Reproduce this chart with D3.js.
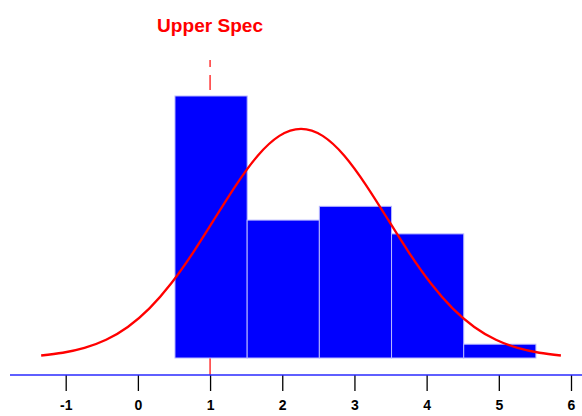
<!DOCTYPE html>
<html>
<head>
<meta charset="utf-8">
<script src="https://cdn.jsdelivr.net/npm/d3@7"></script>
<style>
  body { margin: 0; background: #fff; }
  svg { display: block; }
</style>
</head>
<body>
<div id="chart"></div>
<script>
// histogram bins (lower edge, upper edge) and counts
var binStart = [0.5, 1.5, 2.5, 3.5, 4.5];
var binEnd = [1.5, 2.5, 3.5, 4.5, 5.5];
var counts = [19, 10, 11, 9, 1];

// fitted normal curve (x value, height in counts)
var curveX = [-1.34, -1.04, -0.74, -0.44, -0.14, 0.16, 0.46, 0.76, 1.06, 1.36, 1.66, 1.96, 2.26,
              2.56, 2.86, 3.16, 3.46, 3.76, 4.06, 4.36, 4.66, 4.96, 5.26, 5.56, 5.86];
var curveY = [0.18, 0.38, 0.73, 1.32, 2.25, 3.60, 5.40, 7.61, 10.08, 12.54, 14.67, 16.11, 16.62,
              16.11, 14.67, 12.54, 10.08, 7.61, 5.40, 3.60, 2.25, 1.32, 0.73, 0.38, 0.18];

var tickValues = [-1, 0, 1, 2, 3, 4, 5, 6];
var upperSpec = 1;
var specLabel = "Upper Spec";

var width = 582,
    height = 416,
    axisY = 375;

var x = d3.scaleLinear()
          .domain([-1, 6])
          .range([65.7, 571]);

var y = d3.scaleLinear()
          .domain([0, 19])
          .range([358, 96]);

var svg = d3.select("#chart").append("svg")
    .attr("width", width)
    .attr("height", height);

// spec line (behind the bars)
svg.append("line")
    .attr("x1", x(upperSpec))
    .attr("x2", x(upperSpec))
    .attr("y1", 60)
    .attr("y2", axisY)
    .attr("stroke", "red")
    .attr("stroke-width", 1.2)
    .attr("stroke-dasharray", "7,8,15,8,400");

svg.append("text")
    .attr("x", x(upperSpec))
    .attr("y", 32)
    .attr("text-anchor", "middle")
    .attr("font-family", "Liberation Sans, Arial, sans-serif")
    .attr("font-weight", "bold")
    .attr("font-size", "18px")
    .attr("textLength", 106)
    .attr("lengthAdjust", "spacingAndGlyphs")
    .attr("fill", "red")
    .text(specLabel);

// bars
svg.selectAll(".bar")
    .data(counts)
    .enter()
    .append("rect")
    .attr("class", "bar")
    .attr("x", (d, i) => x(binStart[i]) + 1)
    .attr("y", d => y(d))
    .attr("width", (d, i) => x(binEnd[i]) - x(binStart[i]))
    .attr("height", d => y(0) - y(d))
    .attr("fill", "#0000ff")
    .attr("stroke", "#b8b8ff")
    .attr("stroke-width", 1);

// normal curve
var line = d3.line()
    .x((d, i) => x(curveX[i]))
    .y(d => y(d))
    .curve(d3.curveNatural);

svg.append("path")
    .datum(curveY)
    .attr("d", line)
    .attr("fill", "none")
    .attr("stroke", "red")
    .attr("stroke-width", 2.3);

// x axis
var axis = svg.append("g")
    .attr("class", "xAxis")
    .attr("transform", "translate(0," + axisY + ")")
    .call(d3.axisBottom(x)
            .tickValues(tickValues)
            .tickSize(16)
            .tickPadding(12)
            .tickFormat(d => String(d)));

axis.select(".domain").remove();

axis.selectAll(".tick line")
    .attr("stroke", "#000")
    .attr("stroke-width", 1.3);

axis.selectAll("text")
    .attr("font-family", "Liberation Sans, Arial, sans-serif")
    .attr("font-weight", "bold")
    .attr("font-size", "14px")
    .attr("dy", "0.72em")
    .attr("y", 25)
    .attr("fill", "#000");

svg.append("line")
    .attr("x1", 10)
    .attr("x2", width)
    .attr("y1", axisY)
    .attr("y2", axisY)
    .attr("stroke", "#2a2aff")
    .attr("stroke-width", 1.6);
</script>
</body>
</html>
